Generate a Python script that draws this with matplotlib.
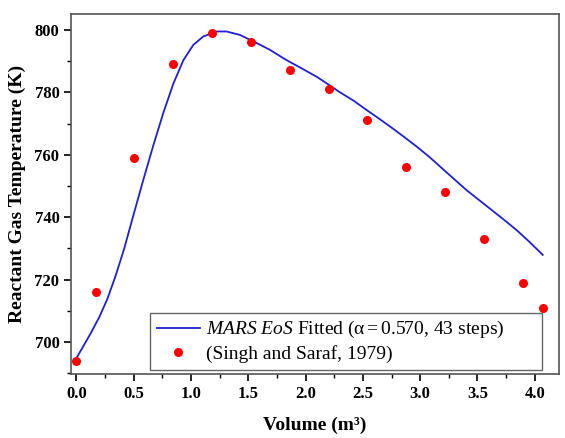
import matplotlib
matplotlib.use("Agg")
import matplotlib.pyplot as plt
from matplotlib.ticker import MultipleLocator

plt.rcParams['font.family'] = 'Liberation Serif'
plt.rcParams['mathtext.fontset'] = 'custom'
plt.rcParams['mathtext.it'] = 'Liberation Serif:italic'
plt.rcParams['mathtext.rm'] = 'Liberation Serif'

# fitted curve
vol_fit = [0.0, 0.125, 0.2, 0.27, 0.34, 0.416, 0.5, 0.584, 0.671, 0.759, 0.846, 0.933, 1.02,
           1.107, 1.224, 1.31, 1.427, 1.573, 1.69, 1.83, 1.96, 2.096, 2.2, 2.3, 2.42,
           2.53, 2.64, 2.75, 2.86, 2.97, 3.08, 3.18, 3.29, 3.40, 3.51, 3.62, 3.73,
           3.84, 3.95, 4.07]
temp_fit = [694.8, 702.8, 708.0, 713.8, 721.0, 729.8, 741.0, 752.0, 763.0, 773.5, 782.8, 790.3, 795.2,
            797.9, 799.5, 799.5, 798.4, 795.8, 793.6, 790.4, 787.8, 785.0, 782.5, 780.0,
            777.3, 774.4, 771.6, 768.7, 765.7, 762.6, 759.3, 756.0, 752.4, 748.8, 745.6,
            742.4, 739.2, 735.9, 732.2, 727.9]

# experimental data (Singh and Saraf, 1979)
vol_exp = [0.0, 0.17, 0.5, 0.84, 1.18, 1.52, 1.86, 2.2, 2.54, 2.88, 3.22, 3.56, 3.9, 4.07]
temp_exp = [694, 716, 759, 789, 799, 796, 787, 781, 771, 756, 748, 733, 719, 711]

fig = plt.figure(figsize=(5.65, 4.38), dpi=100)
ax = fig.add_axes([0.126, 0.146, 0.863, 0.822])

ax.plot(vol_fit, temp_fit, color='#2020d0', lw=1.3,
        label=r'$\mathit{MARS\ EoS}$ Fitted ($\mathrm{\alpha = 0.570}$, 43 steps)')
ax.plot(vol_exp, temp_exp, 'o', color='#ff0000', ms=6.5, mec='none', zorder=6,
        label='(Singh and Saraf, 1979)')

ax.set_xlim(-0.046, 4.21)
ax.set_ylim(689.7, 805.1)
ax.xaxis.set_major_locator(MultipleLocator(0.5))
ax.xaxis.set_minor_locator(MultipleLocator(0.25))
ax.yaxis.set_major_locator(MultipleLocator(20))
ax.yaxis.set_minor_locator(MultipleLocator(10))
ax.xaxis.set_major_formatter(matplotlib.ticker.FormatStrFormatter('%.1f'))

ax.tick_params(which='both', direction='out', top=False, right=False)
ax.tick_params(which='major', length=5, width=1.2, labelsize=12)
ax.tick_params(which='minor', length=3, width=1.0)
for lab in ax.get_xticklabels() + ax.get_yticklabels():
    lab.set_fontweight('bold')
for s in ax.spines.values():
    s.set_color('#555555')
    s.set_linewidth(1.2)

ax.set_xlabel('Volume (m³)', fontsize=14, fontweight='bold', labelpad=11)
ax.set_ylabel('Reactant Gas Temperature (K)', fontsize=14, fontweight='bold', labelpad=6)

leg = ax.legend(loc='lower left', bbox_to_anchor=(0.162, 0.011, 0.803, 0.167), mode='expand',
                borderaxespad=0, fontsize=14, fancybox=False, edgecolor='#666666',
                framealpha=1, handlelength=2.2, handletextpad=0.3, labelspacing=0.25,
                borderpad=0.35)
leg.get_frame().set_linewidth(1.0)
leg.set_zorder(5)

fig.savefig('out.png', dpi=100)
